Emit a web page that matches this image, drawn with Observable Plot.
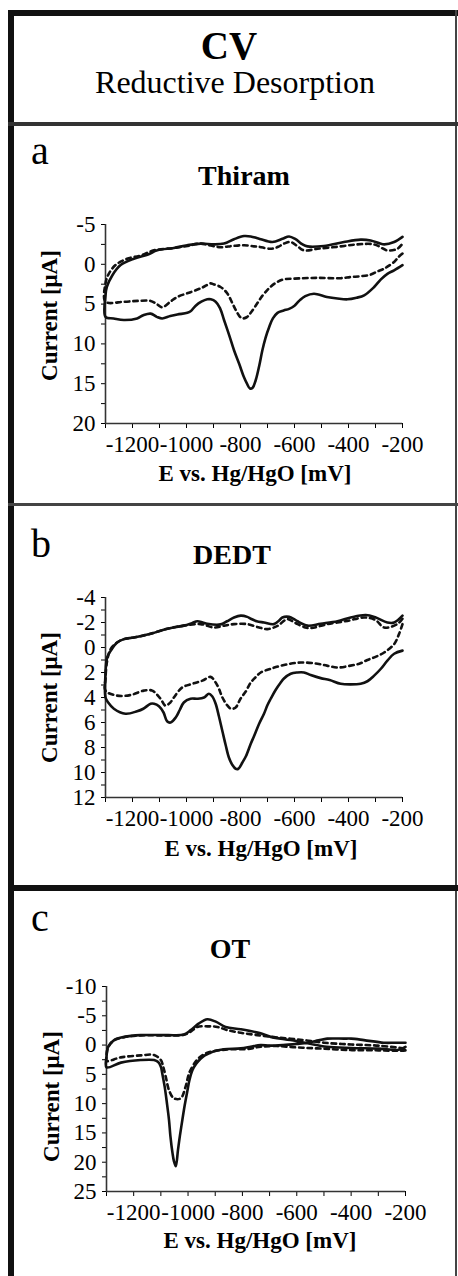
<!DOCTYPE html>
<html>
<head>
<meta charset="utf-8">
<script src="https://cdn.jsdelivr.net/npm/d3@7"></script>
<script src="https://cdn.jsdelivr.net/npm/@observablehq/plot@0.6"></script>
<style>
  html, body { margin: 0; padding: 0; background: #fff; }
  body { width: 458px; height: 1276px; position: relative; overflow: hidden; font-family: "Liberation Serif", "Times New Roman", serif; color: #000; }
  .abs { position: absolute; line-height: 1; white-space: nowrap; }
  .bar { position: absolute; }
  .ctr { text-align: center; width: 300px; }
  .bold { font-weight: bold; }
  .ylab { position: absolute; width: 240px; text-align: center; line-height: 1; font-weight: bold; font-size: 23px; transform: rotate(-90deg); white-space: nowrap; }
  .plot { position: absolute; left: 0; }
  .plot svg text { font-family: "Liberation Serif", "Times New Roman", serif; }
</style>
</head>
<body>
<!-- frame -->
<div class="bar" style="left:8px;top:10px;width:6px;height:1266px;background:#111"></div>
<div class="bar" style="left:8px;top:10px;width:450px;height:6px;background:#111"></div>
<div class="bar" style="left:455px;top:10px;width:2px;height:1266px;background:#444"></div>
<div class="bar" style="left:8px;top:122px;width:450px;height:4px;background:#333"></div>
<div class="bar" style="left:8px;top:503px;width:450px;height:3px;background:#444"></div>
<div class="bar" style="left:8px;top:885px;width:450px;height:6px;background:#111"></div>

<!-- header -->
<div class="abs ctr bold" style="left:79px;top:26px;font-size:39px">CV</div>
<div class="abs ctr" style="left:85px;top:66px;font-size:32px">Reductive Desorption</div>

<!-- panel labels -->
<div class="abs" style="left:31px;top:131px;font-size:40px">a</div>
<div class="abs ctr bold" style="left:94px;top:162px;font-size:28px">Thiram</div>
<div class="abs" style="left:31px;top:524px;font-size:40px">b</div>
<div class="abs ctr bold" style="left:82px;top:541px;font-size:28px">DEDT</div>
<div class="abs" style="left:31px;top:898px;font-size:40px">c</div>
<div class="abs ctr bold" style="left:80px;top:935px;font-size:28px">OT</div>

<!-- axis titles -->
<div class="ylab" style="left:-71px;top:304px">Current [μA]</div>
<div class="ylab" style="left:-71px;top:686px">Current [μA]</div>
<div class="ylab" style="left:-69px;top:1085px">Current [μA]</div>
<div class="abs ctr bold" style="left:105px;top:462px;font-size:23px">E vs. Hg/HgO [mV]</div>
<div class="abs ctr bold" style="left:111px;top:837px;font-size:23px">E vs. Hg/HgO [mV]</div>
<div class="abs ctr bold" style="left:110px;top:1229px;font-size:23px">E vs. Hg/HgO [mV]</div>

<div id="pa" class="plot" style="top:200px"></div>
<div id="pb" class="plot" style="top:570px"></div>
<div id="pc" class="plot" style="top:960px"></div>

<script>
// ---------- shared axis values ----------
const xTicks = [-1300, -1200, -1100, -1000, -900, -800, -700, -600, -500, -400, -300, -200];
const xTickLabels = [-1200, -1000, -800, -600, -400, -200];

// ---------- (a) Thiram ----------
const aYTicks = [-5, -2.5, 0, 2.5, 5, 7.5, 10, 12.5, 15, 17.5, 20];
const aYTickLabels = [-5, 0, 5, 10, 15, 20];
const aSolidE = [-200, -231, -256, -280, -305, -342, -370, -404, -441, -480, -528, -560, -580, -600, -620, -640, -663, -680, -694, -707, -719, -731, -744, -755, -765, -776, -787, -805, -824, -842, -861, -876, -892, -910, -923, -945, -966, -985, -997, -1034, -1060, -1090, -1110, -1133, -1160, -1183, -1232, -1270, -1300,
  -1300, -1295, -1275, -1244, -1195, -1145, -1108, -1047, -997, -948, -898, -861, -824, -787, -762, -740, -725, -682, -645, -620, -596, -570, -552, -491, -417, -355, -318, -268, -231, -200];
const aSolidI = [0.1, 0.75, 1.2, 1.9, 2.85, 3.9, 4.2, 4.4, 4.3, 4.1, 3.7, 4.0, 4.5, 5.2, 5.6, 5.8, 6.1, 6.8, 7.9, 9.2, 10.8, 12.8, 14.6, 15.5, 15.6, 15.0, 14.2, 12.5, 10.8, 8.9, 7.0, 5.5, 4.7, 4.4, 4.4, 4.7, 5.2, 5.9, 6.1, 6.3, 6.5, 6.8, 6.6, 6.2, 6.4, 6.8, 7.0, 6.8, 6.6,
  3.9, 2.85, 1.4, 0.1, -0.7, -1.2, -1.75, -2.05, -2.4, -2.6, -2.5, -2.6, -3.15, -3.55, -3.5, -3.3, -3.15, -2.8, -3.2, -3.5, -3.15, -2.5, -2.25, -2.3, -2.8, -3.1, -3.0, -2.5, -2.8, -3.45];
const aDashE = [-200, -215, -231, -256, -268, -293, -318, -355, -392, -429, -515, -602, -640, -663, -688, -700, -720, -738, -760, -775, -790, -799, -815, -830, -850, -874, -900, -911, -940, -985, -1034, -1060, -1090, -1110, -1133, -1180, -1232, -1300,
  -1300, -1288, -1263, -1220, -1170, -1121, -1047, -997, -948, -910, -874, -830, -787, -750, -732, -688, -660, -639, -614, -590, -565, -515, -441, -367, -305, -256, -219, -200];
const aDashI = [-1.35, -0.9, -0.3, 0.3, 0.55, 0.9, 1.3, 1.5, 1.6, 1.75, 1.7, 1.8, 1.9, 2.2, 2.8, 3.2, 4.0, 4.9, 6.0, 6.6, 6.8, 6.7, 5.9, 4.9, 3.6, 2.85, 2.5, 2.4, 2.9, 3.5, 4.1, 4.7, 5.4, 5.0, 4.6, 4.6, 4.7, 4.7,
  2.4, 1.2, 0.1, -0.7, -1.1, -1.75, -2.05, -2.3, -2.6, -2.35, -2.15, -2.3, -2.4, -2.25, -2.2, -1.95, -2.2, -2.6, -2.8, -2.3, -1.75, -1.95, -2.2, -2.5, -2.5, -1.75, -1.95, -2.6];

// ---------- (b) DEDT ----------
const bYTicks = [-4, -3, -2, -1, 0, 1, 2, 3, 4, 5, 6, 7, 8, 9, 10, 11, 12];
const bYTickLabels = [-4, -2, 0, 2, 4, 6, 8, 10, 12];
const bSolidE = [-200, -231, -256, -280, -305, -330, -355, -392, -429, -470, -503, -540, -565, -590, -614, -640, -651, -670, -688, -700, -713, -731, -750, -762, -780, -793, -808, -818, -830, -843, -855, -867, -880, -892, -905, -917, -935, -960, -985, -1010, -1025, -1040, -1059, -1072, -1085, -1102, -1120, -1133, -1160, -1183, -1226, -1269, -1290, -1300,
  -1300, -1294, -1281, -1257, -1232, -1195, -1133, -1071, -1010, -980, -960, -940, -923, -874, -850, -824, -799, -775, -762, -740, -713, -676, -655, -645, -620, -600, -589, -552, -503, -441, -392, -336, -299, -256, -231, -200];
const bSolidI = [0.25, 0.5, 1.05, 1.7, 2.25, 2.7, 2.9, 2.95, 2.9, 2.6, 2.45, 2.2, 2.0, 2.0, 2.1, 2.5, 2.8, 3.4, 4.1, 4.6, 5.3, 6.1, 7.1, 7.7, 8.7, 9.2, 9.7, 9.7, 9.4, 8.8, 7.8, 6.7, 5.5, 4.5, 3.9, 3.7, 4.0, 4.1, 4.1, 4.4, 5.0, 5.6, 6.0, 5.9, 5.2, 4.7, 4.5, 4.5, 4.9, 5.1, 5.3, 4.9, 4.4, 4.0,
  2.1, 0.8, 0.27, -0.4, -0.67, -0.8, -1.1, -1.5, -1.75, -1.95, -2.1, -2.0, -1.9, -1.85, -2.1, -2.4, -2.55, -2.45, -2.3, -2.1, -2.0, -1.87, -2.2, -2.4, -2.45, -2.25, -2.1, -1.75, -1.9, -2.1, -2.4, -2.6, -2.4, -2.0, -2.0, -2.55];
const bDashE = [-200, -213, -231, -268, -300, -330, -360, -392, -441, -480, -515, -577, -639, -688, -725, -745, -762, -780, -800, -818, -835, -850, -867, -880, -892, -911, -941, -978, -1016, -1047, -1060, -1078, -1096, -1127, -1158, -1207, -1257, -1300,
  -1300, -1294, -1281, -1257, -1232, -1195, -1133, -1071, -1010, -948, -898, -860, -824, -775, -731, -700, -663, -626, -600, -560, -540, -478, -404, -342, -300, -268, -219, -200];
const bDashI = [-1.87, -1.07, -0.27, 0.4, 0.75, 1.0, 1.3, 1.45, 1.6, 1.45, 1.3, 1.2, 1.4, 1.7, 2.0, 2.4, 2.8, 3.5, 4.1, 4.8, 4.9, 4.6, 4.0, 3.3, 2.8, 2.35, 2.65, 2.9, 3.2, 4.0, 4.4, 4.65, 4.1, 3.45, 3.45, 3.8, 3.85, 3.45,
  2.5, 1.07, 0.13, -0.4, -0.67, -0.8, -1.1, -1.5, -1.75, -1.87, -1.6, -1.75, -1.87, -1.87, -1.6, -1.47, -1.73, -2.27, -2.0, -1.6, -1.55, -1.87, -2.13, -2.4, -2.2, -1.6, -1.87, -2.3];

// ---------- (c) OT ----------
const cYTicks = [-10, -7.5, -5, -2.5, 0, 2.5, 5, 7.5, 10, 12.5, 15, 17.5, 20, 22.5, 25];
const cYTickLabels = [-10, -5, 0, 5, 10, 15, 20, 25];
const cSolidE = [-200, -240, -280, -353, -400, -427, -488, -520, -560, -600, -650, -700, -733, -770, -806, -868, -900, -917, -940, -953, -970, -984, -995, -1002, -1012, -1021, -1030, -1037, -1045, -1052, -1057, -1065, -1070, -1078, -1086, -1095, -1100, -1110, -1125, -1174, -1247, -1300,
  -1300, -1294, -1272, -1235, -1174, -1076, -1015, -990, -960, -929, -898, -862, -806, -733, -696, -623, -560, -490, -400, -300, -225, -200];
const cSolidI = [-0.4, -0.4, -0.4, -0.85, -1.1, -1.1, -1.1, -0.8, -0.4, -0.2, 0.0, 0.1, 0.0, 0.3, 0.57, 0.7, 1.0, 1.3, 1.8, 2.3, 3.2, 4.3, 6.0, 7.7, 10.2, 12.8, 15.5, 17.9, 20.7, 19.8, 18.5, 15.5, 12.8, 9.8, 7.1, 4.8, 3.7, 2.9, 2.56, 2.56, 3.0, 3.8,
  2.0, 0.3, -0.85, -1.4, -1.7, -1.7, -1.8, -2.55, -3.7, -4.4, -4.0, -3.1, -2.7, -2.0, -1.4, -0.85, -0.3, 0.3, 0.5, 0.6, 0.8, 0.3];
const cDashE = [-200, -231, -300, -402, -524, -600, -672, -733, -782, -855, -929, -955, -972, -996, -1009, -1027, -1052, -1070, -1082, -1092, -1100, -1125, -1174, -1247, -1300,
  -1300, -1294, -1272, -1235, -1174, -1076, -1015, -990, -966, -929, -892, -855, -806, -745, -672, -574, -500, -400, -300, -200];
const cDashI = [0.9, 0.97, 0.9, 0.85, 0.57, 0.4, 0.17, 0.28, 0.68, 0.74, 1.3, 2.0, 2.8, 4.8, 7.1, 9.1, 9.1, 7.7, 5.4, 3.6, 2.56, 1.7, 1.76, 2.1, 2.7,
  2.0, 0.4, -0.8, -1.35, -1.65, -1.65, -1.75, -2.3, -3.1, -3.2, -3.1, -2.55, -2.1, -1.7, -1.3, -0.85, -0.4, -0.1, 0.1, 0.6];

function pts(E, I) { return E.map((e, i) => ({E: e, I: I[i]})); }

function panel(opts) {
  const {solid, dash, yDomain, yTicks, yLabels, mTop, mBottom, mLeft, mRight, height} = opts;
  return Plot.plot({
    width: 458,
    height,
    marginTop: mTop,
    marginBottom: mBottom,
    marginLeft: mLeft,
    marginRight: mRight,
    style: {fontFamily: "'Liberation Serif', 'Times New Roman', serif", fontSize: "23px", color: "#000", background: "transparent", overflow: "visible"},
    x: {domain: [-1300, -200]},
    y: {domain: yDomain, reverse: true},
    marks: [
      Plot.axisX({ticks: xTicks, tickSize: 5, tickPadding: 7, tickFormat: d => xTickLabels.includes(d) ? String(d) : "", label: null, fontSize: 23}),
      Plot.axisY({ticks: yTicks, tickSize: 4, tickPadding: 6, tickFormat: d => yLabels.includes(d) ? String(d) : "", label: null, fontSize: 23}),
      Plot.ruleX([-1300], {stroke: "#333", strokeWidth: 1.6}),
      Plot.ruleY([yDomain[1]], {stroke: "#333", strokeWidth: 1.6}),
      Plot.line(pts(dash[0], dash[1]), {x: "E", y: "I", stroke: "#111", strokeWidth: 2.6, strokeDasharray: "4.5,4", curve: "catmull-rom"}),
      Plot.line(pts(solid[0], solid[1]), {x: "E", y: "I", stroke: "#111", strokeWidth: 2.6, curve: "catmull-rom"})
    ]
  });
}

document.getElementById("pa").append(panel({
  solid: [aSolidE, aSolidI], dash: [aDashE, aDashI], yDomain: [-5, 20], yTicks: aYTicks, yLabels: aYTickLabels,
  height: 260, mTop: 24, mBottom: 37, mLeft: 105, mRight: 56
}));
document.getElementById("pb").append(panel({
  solid: [bSolidE, bSolidI], dash: [bDashE, bDashI], yDomain: [-4, 12], yTicks: bYTicks, yLabels: bYTickLabels,
  height: 260, mTop: 27, mBottom: 33, mLeft: 105, mRight: 56
}));
document.getElementById("pc").append(panel({
  solid: [cSolidE, cSolidI], dash: [cDashE, cDashI], yDomain: [-10, 25], yTicks: cYTicks, yLabels: cYTickLabels,
  height: 270, mTop: 26, mBottom: 39, mLeft: 106, mRight: 53
}));
</script>
</body>
</html>
